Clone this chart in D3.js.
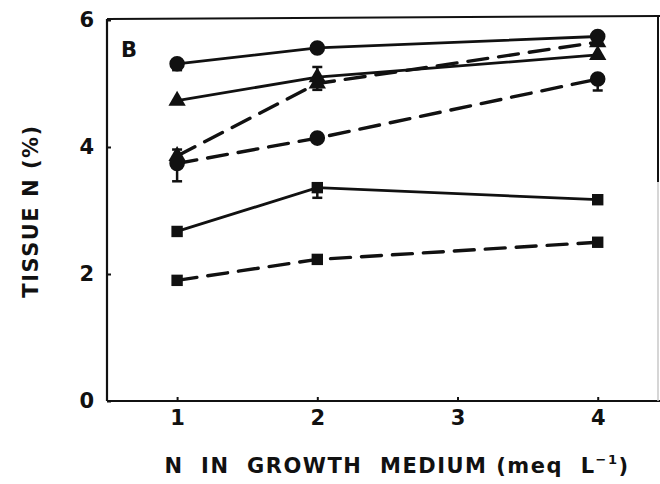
<!DOCTYPE html>
<html>
<head>
<meta charset="utf-8">
<script src="https://cdn.jsdelivr.net/npm/d3@7"></script>
<style>
  html, body { margin: 0; padding: 0; background: #fff; }
  svg text { font-family: "DejaVu Sans", "Liberation Sans", Arial, sans-serif; fill: #111; white-space: pre; }
</style>
</head>
<body>
<svg id="chart" width="660" height="484"></svg>
<script>
// N supply levels in the growth medium (meq L-1)
const nLevels = [1, 2, 4];
const xTicks = [1, 2, 3, 4];
const yTicks = [0, 2, 4, 6];

// Tissue N (%) for each treatment; err = standard error (up, down)
const solidCircle    = [5.31, 5.56, 5.74];
const solidCircleErr = [[0, 0.10], [0, 0], [0, 0]];
const dashedCircle    = [3.74, 4.14, 5.07];
const dashedCircleErr = [[0.22, 0.28], [0, 0], [0, 0.18]];
const solidTriangle    = [4.73, 5.10, 5.45];
const solidTriangleErr = [[0, 0], [0.16, 0], [0, 0]];
const dashedTriangle    = [3.86, 5.00, 5.65];
const dashedTriangleErr = [[0, 0], [0, 0.10], [0, 0]];
const solidSquare    = [2.67, 3.36, 3.17];
const solidSquareErr = [[0, 0], [0, 0.16], [0, 0]];
const dashedSquare    = [1.90, 2.23, 2.50];
const dashedSquareErr = [[0, 0], [0, 0], [0, 0]];

const series = [
  { values: solidCircle,    err: solidCircleErr,    shape: "circle",   dashed: false },
  { values: dashedCircle,   err: dashedCircleErr,   shape: "circle",   dashed: true  },
  { values: solidTriangle,  err: solidTriangleErr,  shape: "triangle", dashed: false },
  { values: dashedTriangle, err: dashedTriangleErr, shape: "triangle", dashed: true  },
  { values: solidSquare,    err: solidSquareErr,    shape: "square",   dashed: false },
  { values: dashedSquare,   err: dashedSquareErr,   shape: "square",   dashed: true  }
];

const svg = d3.select("#chart");
const x = d3.scaleLinear().domain([0.5, 4.43]).range([107, 658]);
const y = d3.scaleLinear().domain([0, 6]).range([401, 20]);
const ink = "#111";
const font = "'DejaVu Sans', 'Liberation Sans', Arial, sans-serif";

// frame: left and bottom axes with inward ticks
const yAxis = d3.axisLeft(y).tickValues(yTicks).tickFormat(d3.format("d"))
  .tickSizeInner(-4).tickSizeOuter(0).tickPadding(13);
const gy = svg.append("g").attr("transform", `translate(${x(0.5)},0)`).call(yAxis);

const xAxis = d3.axisBottom(x).tickValues(xTicks).tickFormat(d3.format("d"))
  .tickSizeInner(-4).tickSizeOuter(0).tickPadding(9);
const gx = svg.append("g").attr("transform", `translate(0,${y(0)})`).call(xAxis);

[gx, gy].forEach(g => {
  g.select(".domain").attr("stroke", ink).attr("stroke-width", 2.2);
  g.selectAll(".tick line").attr("stroke", ink).attr("stroke-width", 2);
  g.selectAll(".tick text").attr("fill", ink)
    .style("font-size", "21px").style("font-weight", "bold")
    .style("font-family", font);
});
gy.select(".domain").attr("d", `M0,${y(0)}V${y(6) - 1}`);
gx.select(".domain").attr("d", `M${x(0.5)},0H660`);

// top and right borders of the panel
svg.append("line").attr("x1", x(0.5)).attr("x2", 660).attr("y1", y(6) - 1).attr("y2", y(6) - 4)
  .attr("stroke", ink).attr("stroke-width", 2);
svg.append("line").attr("x1", x(4.43)).attr("x2", x(4.43)).attr("y1", y(6) - 4).attr("y2", y(3.45))
  .attr("stroke", ink).attr("stroke-width", 2);
svg.append("line").attr("x1", x(4.43)).attr("x2", x(4.43)).attr("y1", y(3.45)).attr("y2", y(0))
  .attr("stroke", "#c8c8c8").attr("stroke-width", 1.5);

// panel letter
svg.append("text").attr("x", 121).attr("y", 57).text("B")
  .style("font-size", "21px").style("font-weight", "bold");

// axis titles
const xTitle = svg.append("text").attr("x", 397).attr("y", 473).attr("text-anchor", "middle")
  .style("font-size", "21px").style("font-weight", "bold").style("letter-spacing", "1.5px");
xTitle.append("tspan").text("N  IN  GROWTH  MEDIUM (meq  L");
xTitle.append("tspan").attr("dy", -9).style("font-size", "13px").text("−1");
xTitle.append("tspan").attr("dy", 9).text(")");

svg.append("text")
  .attr("transform", "translate(38,211) rotate(-90)")
  .attr("text-anchor", "middle")
  .style("font-size", "21px").style("font-weight", "bold").style("letter-spacing", "1.5px")
  .text("TISSUE N (%)");

// connecting lines
const line = d3.line().x((d, i) => x(nLevels[i])).y(d => y(d));
const plot = svg.append("g");
series.forEach(s => {
  plot.append("path").datum(s.values).attr("d", line)
    .attr("fill", "none").attr("stroke", ink)
    .attr("stroke-width", s.dashed ? 3.4 : 2.8)
    .attr("stroke-dasharray", s.dashed ? "20,11" : null)
    .attr("stroke-linecap", "round");
});

// error bars
series.forEach(s => {
  s.values.forEach((v, i) => {
    const [up, down] = s.err[i];
    if (!up && !down) return;
    const cx = x(nLevels[i]);
    const top = y(v + up), bot = y(v - down);
    plot.append("line").attr("x1", cx).attr("x2", cx).attr("y1", top).attr("y2", bot)
      .attr("stroke", ink).attr("stroke-width", 2.5);
    if (up) plot.append("line").attr("x1", cx - 5).attr("x2", cx + 5).attr("y1", top).attr("y2", top)
      .attr("stroke", ink).attr("stroke-width", 2.5);
    if (down) plot.append("line").attr("x1", cx - 5).attr("x2", cx + 5).attr("y1", bot).attr("y2", bot)
      .attr("stroke", ink).attr("stroke-width", 2.5);
  });
});

// markers
const symbolType = { circle: d3.symbolCircle, triangle: d3.symbolTriangle, square: d3.symbolSquare };
const symbolSize = { circle: 190, triangle: 130, square: 130 };
series.forEach(s => {
  plot.selectAll(null).data(s.values).join("path")
    .attr("transform", (d, i) => `translate(${x(nLevels[i])},${y(d)})`)
    .attr("d", d3.symbol().type(symbolType[s.shape]).size(symbolSize[s.shape]))
    .attr("fill", ink);
});
</script>
</body>
</html>
